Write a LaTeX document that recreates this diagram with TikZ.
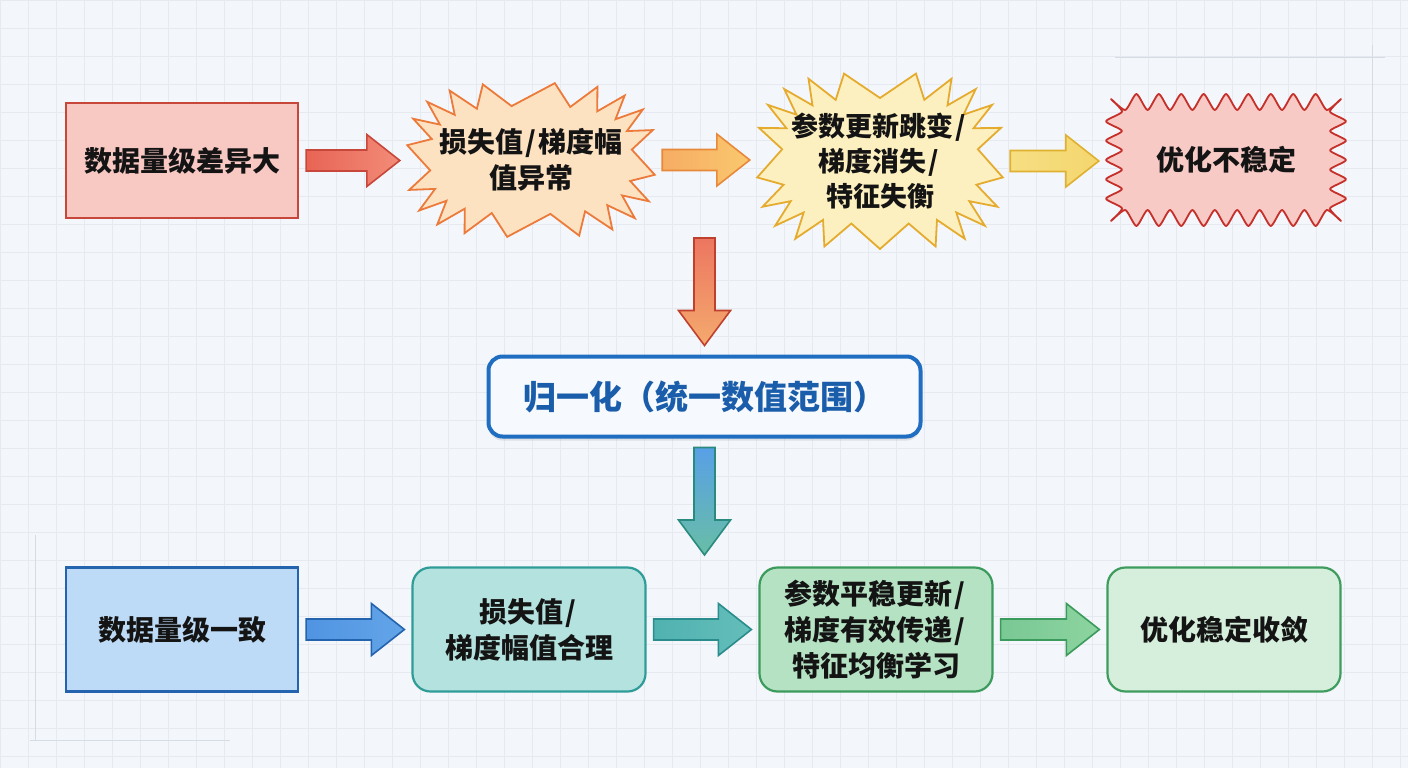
\documentclass[tikz,border=0pt]{standalone}
\usepackage{fontspec}
\setmainfont{Noto Sans CJK SC}[BoldFont={Noto Sans CJK SC Black}]
\usetikzlibrary{calc,shadows}
\definecolor{bgc}{HTML}{F3F6FA}
\definecolor{gridc}{HTML}{E6EAF0}
\definecolor{decoc}{HTML}{D6DCE4}
\definecolor{r1f}{HTML}{F8C8C3}\definecolor{r1d}{HTML}{C8473B}
\definecolor{s2f}{HTML}{FDE2C2}\definecolor{s2d}{HTML}{EC7A3A}
\definecolor{s3f}{HTML}{FDF0C0}\definecolor{s3d}{HTML}{E5AB2E}
\definecolor{w4f}{HTML}{F8CAC6}\definecolor{w4d}{HTML}{C6302A}
\definecolor{nd}{HTML}{1F6EC2}\definecolor{nf}{HTML}{F6F9FD}\definecolor{nt}{HTML}{1A5DAA}
\definecolor{b5f}{HTML}{BDDBF6}\definecolor{b5d}{HTML}{2463AE}
\definecolor{b6f}{HTML}{B3E2DF}\definecolor{b6d}{HTML}{2F9C98}
\definecolor{b7f}{HTML}{B5E2C3}\definecolor{b7d}{HTML}{3B9B5C}
\definecolor{b8f}{HTML}{D6EFDD}\definecolor{b8d}{HTML}{3E9C5E}
% arrow colours
\definecolor{a1l}{HTML}{E86455}\definecolor{a1r}{HTML}{F28C78}
\definecolor{a2d}{HTML}{E8883A}\definecolor{a2l}{HTML}{F6AC64}\definecolor{a2r}{HTML}{FAC86E}
\definecolor{a3d}{HTML}{E0B030}\definecolor{a3l}{HTML}{F6DE82}\definecolor{a3r}{HTML}{F4D66E}
\definecolor{v1d}{HTML}{C0402E}\definecolor{v1t}{HTML}{EC7660}\definecolor{v1b}{HTML}{F4AA6E}
\definecolor{v2d}{HTML}{2A8A7E}\definecolor{v2t}{HTML}{58A0E6}\definecolor{v2b}{HTML}{68BEA6}
\definecolor{c1l}{HTML}{5094E2}\definecolor{c1r}{HTML}{64A5E8}
\definecolor{c2d}{HTML}{2A8C8C}\definecolor{c2l}{HTML}{50B2B0}\definecolor{c2r}{HTML}{64BEBA}
\definecolor{c3l}{HTML}{7AC894}\definecolor{c3r}{HTML}{8CD4A0}
\newcommand\sls{\kern0.08em/\kern0.08em}
% starburst: 1 centre, 2 a, 3 b, 4 depth, 5 N spikes, 6 last index (2N-1), 7 style
\newcommand\burst[7]{%
  \draw[#7, shift={(#1)}] plot[variable=\i, samples at={0,...,#6}]
   ({(mod(\i,2)==0 ? #2 : #2-#4)*sign(cos((\i+0.5)*180/#5))*abs(cos((\i+0.5)*180/#5))^0.65},
    {(mod(\i,2)==0 ? #3 : #3-#4)*sign(sin((\i+0.5)*180/#5))*abs(sin((\i+0.5)*180/#5))^0.65}) -- cycle;}
% horizontal block arrow from #1 to #2
\newcommand\harrow[3]{%
  \draw[#3] let \p1=(#1), \p2=(#2) in
   (\x1,{\y1-10.5pt}) -- ({\x2-33pt},{\y1-10.5pt}) -- ({\x2-33pt},{\y1-26pt}) -- (\x2,\y1)
   -- ({\x2-33pt},{\y1+26pt}) -- ({\x2-33pt},{\y1+10.5pt}) -- (\x1,{\y1+10.5pt}) -- cycle;}
% vertical (downward) block arrow from #1 to #2
\newcommand\varrow[3]{%
  \draw[#3] let \p1=(#1), \p2=(#2) in
   ({\x1-10.5pt},\y1) -- ({\x1-10.5pt},{\y2+35pt}) -- ({\x1-26pt},{\y2+35pt}) -- (\x1,\y2)
   -- ({\x1+26pt},{\y2+35pt}) -- ({\x1+10.5pt},{\y2+35pt}) -- ({\x1+10.5pt},\y1) -- cycle;}
\def\wl{}
\def\WA{112}\def\WB{58}\def\WM{8}\def\WN{10}\def\WS{6}\def\WC{3}
\begin{document}
\begin{tikzpicture}[x=1pt,y=-1pt,
  txt/.style={font=\bfseries\fontsize{28}{36}\selectfont, text=black!92, align=center},
  sqbox/.style={txt, rectangle, draw, line width=2.2pt, minimum width=232, minimum height=124},
  rbox/.style={txt, rectangle, rounded corners=18, draw, line width=2.2pt, minimum width=233, minimum height=124},
  ghost/.style={txt, draw=none, inner sep=0pt},
  arr/.style={line width=1.6pt, line join=miter},
  wavy/.style={fill=w4f, draw=w4d, line width=1.8pt, line join=round, shift={(c4)}},
]
\useasboundingbox (0,0) rectangle (1408,768);
\fill[bgc] (0,0) rectangle (1408,768);
\draw[gridc, line width=0.6pt] \foreach \g in {0,28,...,1408}{(\g,0) -- (\g,768)};
\draw[gridc, line width=0.6pt] \foreach \g in {0,28,...,768}{(0,\g) -- (1408,\g)};
% faint decorative lines
\draw[decoc, line width=1pt] (1115,58) -- (1385,58) (1372,45) -- (1372,250);
\draw[decoc, line width=1pt] (35,535) -- (35,740) (30,740) -- (230,740);

% ---- top row ----
\node[sqbox, fill=r1f, draw=r1d, minimum height=115] (b1) at (182,160.5) {数据量级差异大};

\coordinate (c2) at (531,160);
\burst{c2}{124}{77}{23}{20}{39}{fill=s2f, draw=s2d, line width=1.8pt, line join=miter}
\node[ghost, minimum width=248, minimum height=154] (s2) at (c2) {损失值\sls 梯度幅\\值异常};

\coordinate (c3) at (880,161);
\burst{c3}{123}{88}{25}{21}{41}{fill=s3f, draw=s3d, line width=1.8pt, line join=miter}
\node[ghost, minimum width=246, minimum height=176, font=\bfseries\fontsize{27}{35}\selectfont] (s3) at (c3) {参数更新跳变\sls\\梯度消失\sls\\特征失衡};

\coordinate (c4) at (1226,160);
\foreach \k in {0,...,19}{%
  \pgfmathsetmacro\px{-\WA+\k*\WA/\WN-(\k==0 ? \WC : 0)}%
  \pgfmathsetmacro\py{-\WB-(\k==0 ? \WC : \WM*(mod(\k,2)==0 ? 1 : -1))}%
  \xdef\wl{\wl(\px,\py)}}
\foreach \k in {0,...,11}{%
  \pgfmathsetmacro\px{\WA+(\k==0 ? \WC : \WM*(mod(\k,2)==0 ? 1 : -1))}%
  \pgfmathsetmacro\py{-\WB+\k*\WB/\WS-(\k==0 ? \WC : 0)}%
  \xdef\wl{\wl(\px,\py)}}
\foreach \k in {0,...,19}{%
  \pgfmathsetmacro\px{\WA-\k*\WA/\WN+(\k==0 ? \WC : 0)}%
  \pgfmathsetmacro\py{\WB+(\k==0 ? \WC : \WM*(mod(\k,2)==0 ? 1 : -1))}%
  \xdef\wl{\wl(\px,\py)}}
\foreach \k in {0,...,11}{%
  \pgfmathsetmacro\px{-\WA-(\k==0 ? \WC : \WM*(mod(\k,2)==0 ? 1 : -1))}%
  \pgfmathsetmacro\py{\WB-\k*\WB/\WS+(\k==0 ? \WC : 0)}%
  \xdef\wl{\wl(\px,\py)}}
\edef\wavydraw{\noexpand\draw[wavy] plot[smooth cycle, tension=0.4] coordinates {\wl};}
\wavydraw
\node[ghost, minimum width=240, minimum height=134] (w4) at (c4) {优化不稳定};

\harrow{$(b1.east)+(7,0)$}{$(s2.west)+(-7,0)$}{arr, draw=r1d, left color=a1l, right color=a1r}
\harrow{$(s2.east)+(7,0)$}{$(s3.west)+(-7,0)$}{arr, draw=a2d, left color=a2l, right color=a2r}
\harrow{$(s3.east)+(7,0)$}{$(w4.west)+(-7,0)$}{arr, draw=a3d, left color=a3l, right color=a3r}

% ---- normalisation ----
\node[rectangle, rounded corners=14, draw=nd, fill=nf, line width=4pt, minimum width=432, minimum height=80,
      text=nt, font=\bfseries\fontsize{33}{40}\selectfont,
      drop shadow={shadow xshift=0pt, shadow yshift=-4pt, opacity=0.18, fill=gray}] (norm) at (704.5,396.5) {归一化（统一数值范围）};

\coordinate (topc) at (704.5,238);
\coordinate (botc) at (704.5,555);
\varrow{topc}{$(norm.north)+(0,-9)$}{arr, draw=v1d, top color=v1t, bottom color=v1b}
\varrow{$(norm.south)+(0,9)$}{botc}{arr, draw=v2d, top color=v2t, bottom color=v2b}

% ---- bottom row ----
\node[sqbox, fill=b5f, draw=b5d] (b5) at (182,629.5) {数据量级一致};
\node[rbox, fill=b6f, draw=b6d] (b6) at (529,629.5) {损失值\sls\\梯度幅值合理};
\node[rbox, fill=b7f, draw=b7d] (b7) at (876,629.5) {参数平稳更新\sls\\梯度有效传递\sls\\特征均衡学习};
\node[rbox, fill=b8f, draw=b8d] (b8) at (1224,629.5) {优化稳定收敛};

\harrow{$(b5.east)+(7,0)$}{$(b6.west)+(-7,0)$}{arr, draw=b5d, left color=c1l, right color=c1r}
\harrow{$(b6.east)+(7,0)$}{$(b7.west)+(-7,0)$}{arr, draw=c2d, left color=c2l, right color=c2r}
\harrow{$(b7.east)+(7,0)$}{$(b8.west)+(-7,0)$}{arr, draw=b7d, left color=c3l, right color=c3r}
\end{tikzpicture}
\end{document}
